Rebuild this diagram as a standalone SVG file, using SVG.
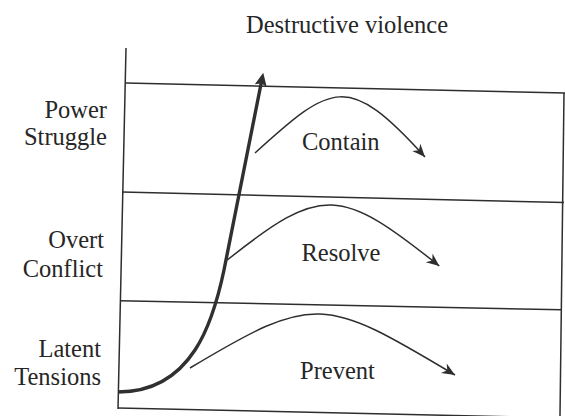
<svg xmlns="http://www.w3.org/2000/svg" width="565" height="416" viewBox="0 0 565 416">
<style>
.t{font-size:24.5px;fill:#262626}
.frame{fill:none;stroke:#2e2e2e;stroke-width:1.5}
.bold{fill:none;stroke:#303030;stroke-width:3.4}
.arc{fill:none;stroke:#2e2e2e;stroke-width:1.5}
</style>
<defs>
<marker id="thin" markerUnits="userSpaceOnUse" viewBox="-14 -7 15 14" markerWidth="15" markerHeight="14" refX="0" refY="0" orient="auto">
<path d="M0,0 L-13,-5.5 L-9,0 L-13,5.5 Z" fill="#2e2e2e"/>
</marker>
<marker id="boldhead" markerUnits="userSpaceOnUse" viewBox="-14 -8 24 16" markerWidth="24" markerHeight="16" refX="-9" refY="0" orient="auto">
<path d="M0,0 L-13,-6 L-11,0 L-13,6 Z" fill="#303030"/>
</marker>
</defs>
<rect width="565" height="416" fill="#ffffff"/>
<g id="frame">
<path class="frame" d="M126,48 L118,409"/>
<path class="frame" d="M126,83 L565,93"/>
<path class="frame" d="M122,192 L564,202.5"/>
<path class="frame" d="M120,300.7 L562,309.8"/>
<path class="frame" d="M118,408 L565,418"/>
<path class="frame" d="M564,93 L560,416"/>
</g>
<g class="t" font-family="Liberation Serif, DejaVu Serif, serif">
<g id="title"><text x="246" y="33">Destructive violence</text></g>
<g id="power-struggle"><text x="107" y="118" text-anchor="end">Power</text><text x="107" y="145" text-anchor="end">Struggle</text></g>
<g id="overt-conflict"><text x="104" y="248" text-anchor="end">Overt</text><text x="103" y="277" text-anchor="end">Conflict</text></g>
<g id="latent-tensions"><text x="101" y="357" text-anchor="end">Latent</text><text x="101" y="385" text-anchor="end">Tensions</text></g>
<g id="contain"><text x="302" y="150">Contain</text></g>
<g id="resolve"><text x="301.5" y="261">Resolve</text></g>
<g id="prevent"><text x="300" y="379">Prevent</text></g>
</g>
<g id="connectors">
<path class="bold" d="M118,392 C193,392 213.5,320 224,270 L261.5,81.5" marker-end="url(#boldhead)"/>
<path class="arc" d="M255,153 C332,83 348,72 425,157" marker-end="url(#thin)"/>
<path class="arc" d="M227.3,260 C321.9,184.4 340.5,186.9 439.3,266" marker-end="url(#thin)"/>
<path class="arc" d="M190,368 C314.4,293.4 323.9,296.3 455,375" marker-end="url(#thin)"/>
</g>
</svg>
